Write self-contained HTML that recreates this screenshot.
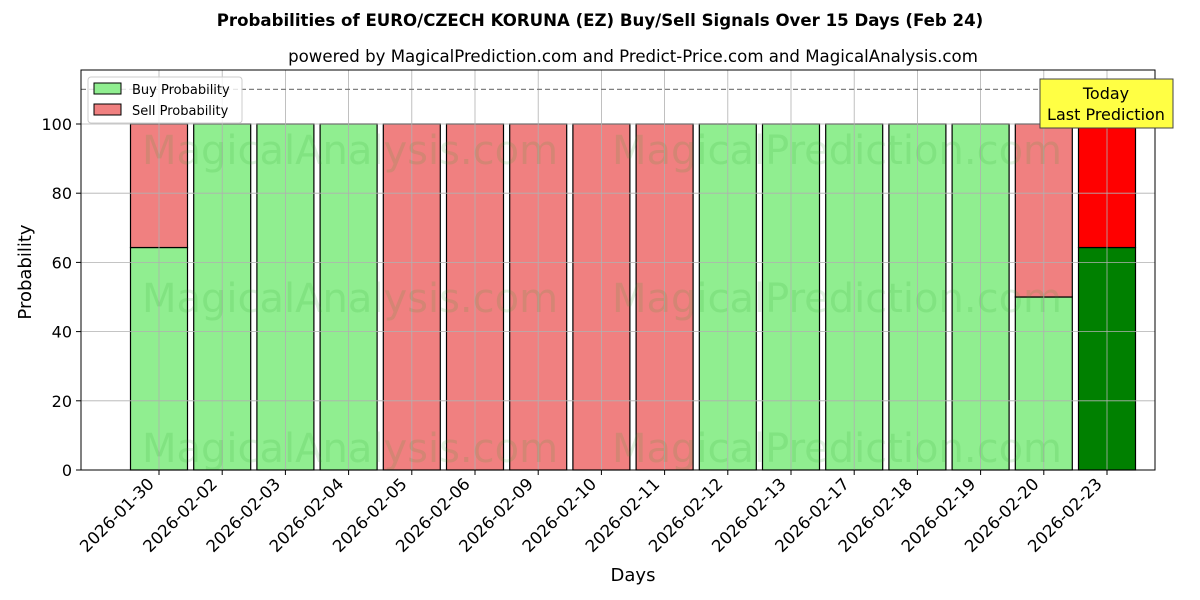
<!DOCTYPE html>
<html><head><meta charset="utf-8"><style>
body{margin:0;background:#fff;}
svg{display:block;font-family:"DejaVu Sans","Liberation Sans",sans-serif;}
</style></head><body>
<svg width="1200" height="600" xmlns="http://www.w3.org/2000/svg">
<rect width="1200" height="600" fill="#fff"/>
<text x="600" y="26" text-anchor="middle" font-size="16.6" font-weight="bold">Probabilities of EURO/CZECH KORUNA (EZ) Buy/Sell Signals Over 15 Days (Feb 24)</text>
<text x="633" y="62" text-anchor="middle" font-size="16.6">powered by MagicalPrediction.com and Predict-Price.com and MagicalAnalysis.com</text>
<script>
(function(){
var svg=document.querySelector('svg');
var ns='http://www.w3.org/2000/svg';
function el(t,a,txt){var e=document.createElementNS(ns,t);for(var k in a)e.setAttribute(k,a[k]);if(txt!==undefined)e.textContent=txt;svg.appendChild(e);return e;}
var labels=['2026-01-30','2026-02-02','2026-02-03','2026-02-04','2026-02-05','2026-02-06','2026-02-09','2026-02-10','2026-02-11','2026-02-12','2026-02-13','2026-02-17','2026-02-18','2026-02-19','2026-02-20','2026-02-23'];
var buy=[64.3,100,100,100,0,0,0,0,0,100,100,100,100,100,50,64.3];
function Y(v){return 470-v*3.46;}
for(var i=0;i<16;i++){
 var cx=159+i*63.2, x=cx-28.5, w=57;
 var last=i==15;
 var bc=last?'#008000':'#90ee90', sc=last?'#ff0000':'#f08080';
 if(buy[i]>0) el('rect',{x:x,y:Y(buy[i]),width:w,height:470-Y(buy[i]),fill:bc,stroke:'#000','stroke-width':1.2});
 if(buy[i]<100) el('rect',{x:x,y:Y(100),width:w,height:Y(buy[i])-Y(100),fill:sc,stroke:'#000','stroke-width':1.2});
}
for(var i=0;i<16;i++){var cx=159+i*63.2;el('line',{x1:cx,y1:70,x2:cx,y2:470,stroke:'#b0b0b0','stroke-width':0.8});}
for(var v=0;v<=100;v+=20){el('line',{x1:81,y1:Y(v),x2:1155,y2:Y(v),stroke:'#b0b0b0','stroke-width':0.8});
 el('line',{x1:76,y1:Y(v),x2:81,y2:Y(v),stroke:'#000'});
 el('text',{x:72,y:Y(v)+6,'text-anchor':'end','font-size':16},v);}
var wm=[[350,150],[837,150],[350,298],[837,298],[350,448],[837,448]];
var wt=['MagicalAnalysis.com','MagicalPrediction.com'];
for(var j=0;j<6;j++) el('text',{x:wm[j][0],y:wm[j][1]+14,'text-anchor':'middle','font-size':40,fill:'#2ca02c','fill-opacity':0.14},wt[j%2]);
el('line',{x1:81,y1:Y(110),x2:1155,y2:Y(110),stroke:'#808080','stroke-width':1.2,'stroke-dasharray':'5,3'});
el('rect',{x:81,y:70,width:1074,height:400,fill:'none',stroke:'#000','stroke-width':1});
for(var i=0;i<16;i++){var cx=159+i*63.2;el('line',{x1:cx,y1:470,x2:cx,y2:475,stroke:'#000'});
 el('text',{x:cx-4,y:485,'text-anchor':'end','font-size':16.6,transform:'rotate(-45 '+(cx-4)+' 485)'},labels[i]);}
el('text',{x:633,y:581,'text-anchor':'middle','font-size':18},'Days');
el('text',{x:31,y:272,'text-anchor':'middle','font-size':18,transform:'rotate(-90 31 272)'},'Probability');
el('rect',{x:88,y:77,width:154,height:46,fill:'#fff','fill-opacity':0.8,stroke:'#ccc',rx:3});
el('rect',{x:94,y:83,width:27,height:11,fill:'#90ee90',stroke:'#000'});
el('text',{x:132,y:94,'font-size':13},'Buy Probability');
el('rect',{x:94,y:104,width:27,height:11,fill:'#f08080',stroke:'#000'});
el('text',{x:132,y:115,'font-size':13},'Sell Probability');
el('rect',{x:1040,y:79,width:133,height:49,fill:'#ffff44',stroke:'#444'});
el('text',{x:1106,y:99,'text-anchor':'middle','font-size':16},'Today');
el('text',{x:1106,y:120,'text-anchor':'middle','font-size':16},'Last Prediction');
})();
</script>
</svg>
</body></html>
